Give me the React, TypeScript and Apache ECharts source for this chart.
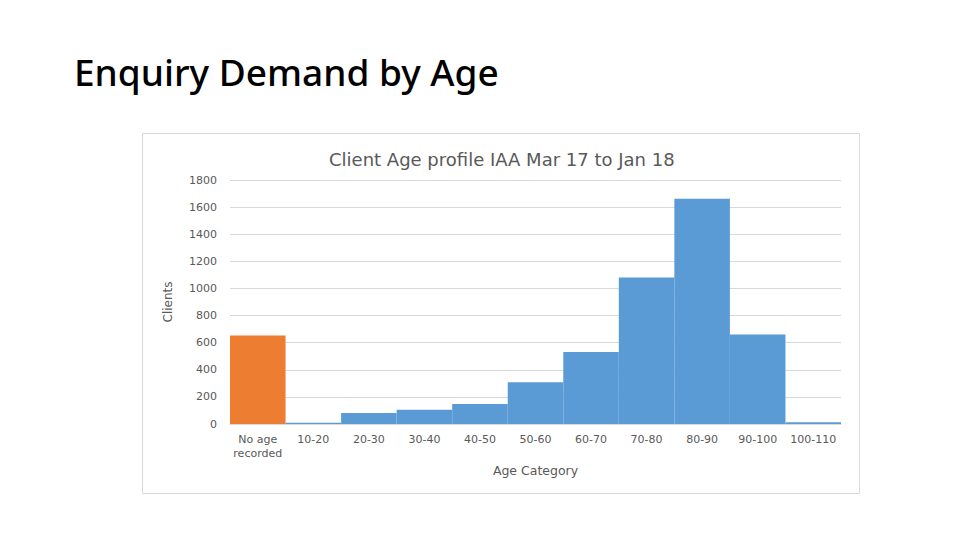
import React, { useEffect, useRef } from "react";
import * as echarts from "echarts";

const categories = ["No age\nrecorded", "10-20", "20-30", "30-40", "40-50", "50-60", "60-70", "70-80", "80-90", "90-100", "100-110"];
const clients = [652, 10, 81, 106, 148, 308, 532, 1080, 1662, 660, 13];
const barColors = ["#ED7D31", "#5B9BD5", "#5B9BD5", "#5B9BD5", "#5B9BD5", "#5B9BD5", "#5B9BD5", "#5B9BD5", "#5B9BD5", "#5B9BD5", "#5B9BD5"];

const pageTitle = "Enquiry Demand by Age";
const chartTitle = "Client Age profile IAA Mar 17 to Jan 18";
const xName = "Age Category";
const yName = "Clients";

const FONT = "DejaVu Sans";

export default function App() {
  const ref = useRef<HTMLDivElement>(null);
  useEffect(() => {
    document.body.style.margin = "0";
    const chart = echarts.init(ref.current!, null, { renderer: "svg" });
    chart.setOption({
      animation: false,
      backgroundColor: "#ffffff",
      textStyle: { fontFamily: FONT },
      title: {
        text: chartTitle,
        left: 324,
        top: 145,
        textStyle: { fontFamily: FONT, fontSize: 18, fontWeight: "normal", color: "#595959" },
      },
      graphic: [
        {
          type: "text",
          left: 74,
          top: 53,
          style: { text: pageTitle, font: "500 37px 'Noto Sans'", fill: "#000000" },
        },
        {
          type: "rect",
          shape: { x: 142.5, y: 133.5, width: 717, height: 360 },
          style: { fill: "none", stroke: "#d9d9d9", lineWidth: 1 },
          z: -1,
        },
      ],
      grid: { left: 230, right: 119, top: 180, bottom: 116 },
      xAxis: {
        type: "category",
        data: categories,
        name: xName,
        nameLocation: "middle",
        nameGap: 40,
        nameTextStyle: { color: "#595959", fontSize: 12.5, fontFamily: FONT },
        axisLine: { lineStyle: { color: "#d9d9d9" } },
        axisTick: { show: false },
        axisLabel: { color: "#595959", fontSize: 11, margin: 8, lineHeight: 14, interval: 0, fontFamily: FONT },
      },
      yAxis: {
        type: "value",
        min: 0,
        max: 1800,
        interval: 200,
        name: yName,
        nameLocation: "middle",
        nameGap: 56,
        nameTextStyle: { color: "#595959", fontSize: 12, fontFamily: FONT },
        axisLine: { show: false },
        axisTick: { show: false },
        splitLine: { lineStyle: { color: "#d9d9d9" } },
        axisLabel: { color: "#595959", fontSize: 11, margin: 13, fontFamily: FONT, formatter: (v: number) => String(v) },
      },
      series: [
        {
          type: "bar",
          barCategoryGap: "0%",
          data: clients.map((v, i) => ({ value: v, itemStyle: { color: barColors[i] } })),
        },
      ],
    });
    return () => chart.dispose();
  }, []);
  return <div ref={ref} style={{ position: "absolute", left: 0, top: 0, width: 960, height: 540 }} />;
}
